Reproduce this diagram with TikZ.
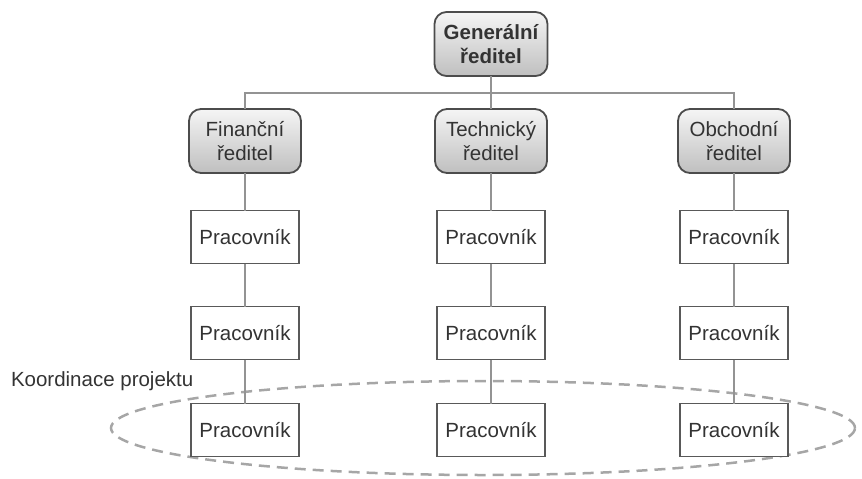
\documentclass[tikz,border=0pt]{standalone}
\usepackage{fontspec}
\setmainfont{Liberation Sans}
\begin{document}
\begin{tikzpicture}[x=1pt,y=-1pt,
  every node/.style={inner sep=0pt, outer sep=0pt, text=black!80,
    font=\fontsize{20.5}{24.5}\selectfont, align=center},
  chief/.style={draw=black!70, line width=1.8pt, rounded corners=12pt,
    top color=gray!8, bottom color=gray!50,
    minimum width=112pt, minimum height=64pt},
  worker/.style={draw=black!65, line width=1.6pt, fill=white,
    minimum width=108pt, minimum height=53pt},
  link/.style={draw=gray!85, line width=1.8pt},
  project/.style={draw=gray!70, line width=2.5pt, dash pattern=on 11pt off 7pt}
]
\useasboundingbox (0,0) rectangle (862,479);

% project coordination ring (drawn first, boxes sit on top)
\draw[project] (483,428) ellipse [x radius=372pt, y radius=47pt];

% management
\node[chief, minimum width=113pt, font=\fontsize{20.5}{24.5}\selectfont\bfseries] (gen) at (491,44) {Generální\\ředitel};
\node[chief] (fin) at (245,141) {Finanční\\ředitel};
\node[chief] (tech) at (491,141) {Technický\\ředitel};
\node[chief] (obch) at (734,141) {Obchodní\\ředitel};

% staff
\foreach \c/\x in {fin/245, tech/491, obch/734}{
  \node[worker] (\c1) at (\x,237) {Pracovník};
  \node[worker] (\c2) at (\x,333) {Pracovník};
  \node[worker] (\c3) at (\x,430) {Pracovník};
}

\coordinate (bar) at (491,93);

% connectors
\draw[link] (gen.south) -- (tech.north);
\draw[link] (fin.north) |- (bar) -| (obch.north);
\foreach \c in {fin, tech, obch}{
  \draw[link] (\c.south) -- (\c1.north);
  \draw[link] (\c1.south) -- (\c2.north);
  \draw[link] (\c2.south) -- (\c3.north);
}

\node[anchor=base west] (koord) at (11,386) {Koordinace projektu};
\end{tikzpicture}
\end{document}
